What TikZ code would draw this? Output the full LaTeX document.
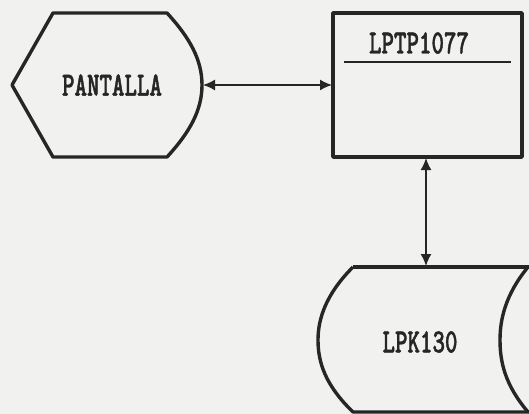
\documentclass[tikz,border=0pt]{standalone}
\usepackage{fontspec}
\usetikzlibrary{arrows.meta}
\newfontfamily\dotfont[FakeStretch=0.70,FakeBold=1.2]{lmmonolt10-bold.otf}
\definecolor{paper}{HTML}{F1F1EF}
\definecolor{ink}{HTML}{262626}
\tikzset{
  shapeline/.style={draw=ink, line width=3.4pt, line join=round},
  conn/.style={draw=ink, line width=1.5pt, {Latex[length=12pt,width=11pt]}-{Latex[length=12pt,width=11pt]}},
  lbl/.style={font=\dotfont\fontsize{34}{34}\selectfont, text=ink, inner sep=0pt}
}
\begin{document}
\begin{tikzpicture}[x=1pt,y=-1pt]
\fill[paper] (0,0) rectangle (529,414);
\useasboundingbox (0,0) rectangle (529,414);
% hexagon (display)
\draw[shapeline] (53,13) -- (167,13) .. controls (190,38) and (202,60) .. (202,85)
  .. controls (202,110) and (190,132) .. (167,157) -- (53,157) -- (12,85) -- cycle;
\coordinate (hexR) at (203,85);
\node[lbl] (pant) at (112,85) {PANTALLA};
% process box
\draw[shapeline] (333,13) rectangle (522,157);
\coordinate (boxL) at (332,85);
\coordinate (boxB) at (426,158);
\node[lbl] (lptp) at (419,43) {LPTP1077};
\draw[draw=ink, line width=1.5pt] (344,62) -- (511,62);
% stored data
\begin{scope}
\clip (0,0) rectangle (529,414);
\draw[shapeline] (353,267) -- (560,267);
\draw[shapeline] (353,267) .. controls (325,295) and (318,320) .. (318,340)
  .. controls (318,362) and (325,385) .. (353,412) -- (560,412);
\draw[shapeline] (528,267) .. controls (505,295) and (500,320) .. (500,340)
  .. controls (500,362) and (505,385) .. (528,412);
\end{scope}
\coordinate (diskT) at (426,266);
\node[lbl] (lpk) at (420,342) {LPK130};
% connectors
\draw[conn] (hexR) -- (boxL);
\draw[conn] (boxB) -- (diskT);
\end{tikzpicture}
\end{document}
